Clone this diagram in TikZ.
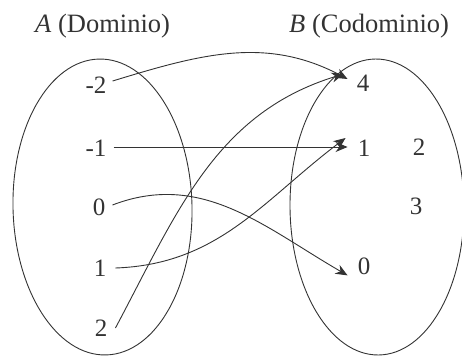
\documentclass[tikz,border=0pt]{standalone}
\usepackage{fontspec}
\setmainfont{Liberation Serif}
\usetikzlibrary{arrows.meta}
\begin{document}
\begin{tikzpicture}[x=1pt,y=-1pt,
  ink/.style={draw=black!80, line width=0.9pt},
  arr/.style={ink, -{Stealth[length=12pt,width=10pt]}},
  num/.style={inner sep=0pt, font=\fontsize{25}{28}\selectfont, text=black!80},
  lbl/.style={inner sep=0pt, font=\fontsize{26.5}{30}\selectfont, text=black!80, anchor=base west}]
\useasboundingbox (0,0) rectangle (462,356);
% sets
\draw[ink, rotate around={1.4:(102.5,207)}] (102.5,207) ellipse (89.5 and 148);
\draw[ink, rotate around={0.6:(377,207)}] (377,207) ellipse (87 and 148);
% titles
\node[lbl] (tA) at (35,32) {\textit{A} (Dominio)};
\node[lbl] (tB) at (289,32) {\textit{B} (Codominio)};
% domain elements
\node[num] (am2) at (96,85) {-2};
\node[num] (am1) at (96,148) {-1};
\node[num] (a0) at (99,207) {0};
\node[num] (a1) at (100,268) {1};
\node[num] (a2) at (101,328) {2};
% codomain elements
\node[num] (b4) at (363,83) {4};
\node[num] (b1) at (364,148) {1};
\node[num] (b2) at (419,147) {2};
\node[num] (b3) at (416,206) {3};
\node[num] (b0) at (364,266) {0};
% mappings
\draw[arr] ([xshift=6pt,yshift=4pt]am2.east) to[out=17,in=152] ([xshift=-9pt,yshift=4pt]b4.west);
\draw[arr] ([xshift=7pt,yshift=1pt]am1.east) -- ([xshift=-10pt,yshift=1pt]b1.west);
\draw[arr] ([xshift=7pt,yshift=2pt]a0.east) to[out=21,in=150] ([xshift=-10pt,yshift=-18pt]b0.north west);
\draw[arr] ([xshift=9pt]a1.east) to[out=2,in=-143] ([xshift=-12pt,yshift=10pt]b1.west);
\draw[arr] ([xshift=8pt]a2.east) to[out=62,in=-163] ([xshift=-13pt,yshift=9pt]b4.west);
\end{tikzpicture}
\end{document}
